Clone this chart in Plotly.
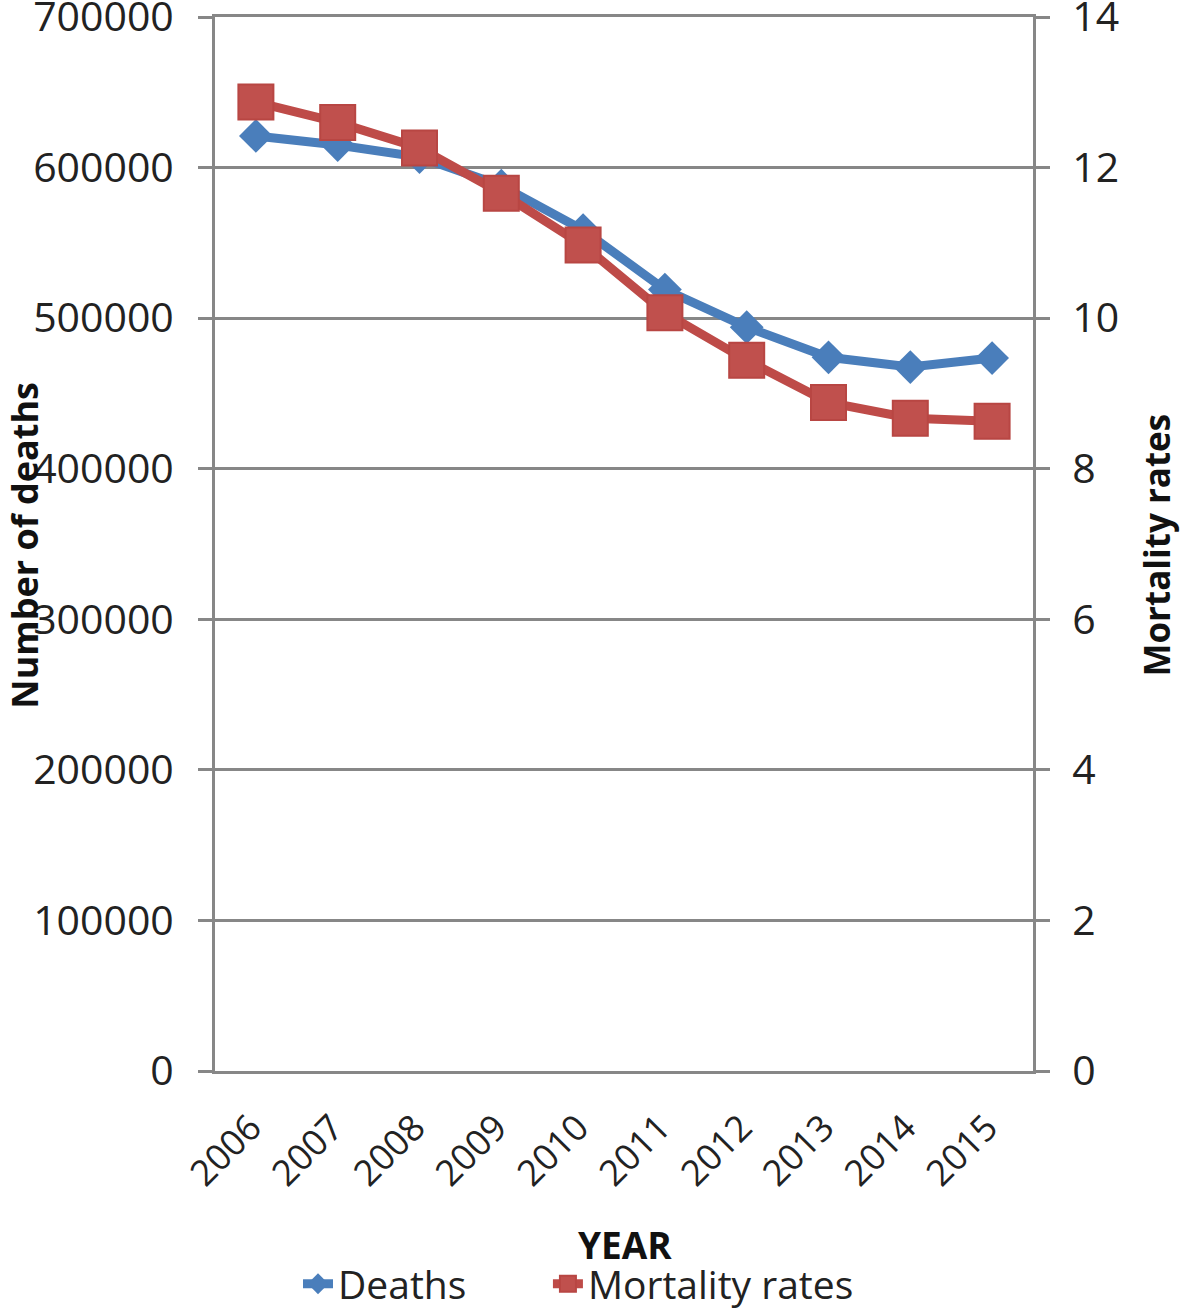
import plotly.graph_objects as go

years = ["2006", "2007", "2008", "2009", "2010", "2011", "2012", "2013", "2014", "2015"]
deaths = [621000, 615000, 607000, 588000, 558500, 519000, 494000, 474000, 467500, 473500]
mortality_rates = [12.87, 12.60, 12.26, 11.66, 10.97, 10.07, 9.44, 8.88, 8.67, 8.63]

left_ticks = [0, 100000, 200000, 300000, 400000, 500000, 600000, 700000]
right_ticks = [0, 2, 4, 6, 8, 10, 12, 14]

BLUE = "#4A7EBB"
RED = "#BE4B48"
GRID = "#878787"
FONT = "Open Sans"
TXT = "#222222"

fig = go.Figure()
fig.add_trace(go.Scatter(
    x=years, y=deaths, name="Deaths", mode="lines+markers", legend="legend",
    line=dict(color=BLUE, width=9),
    marker=dict(symbol="diamond", size=26, color=BLUE),
    yaxis="y",
))
fig.add_trace(go.Scatter(
    x=years, y=mortality_rates, name="Mortality rates", mode="lines+markers", legend="legend2",
    line=dict(color=RED, width=9),
    marker=dict(symbol="square", size=35, color="#C0504D", line=dict(color="#B84643", width=2)),
    yaxis="y2",
))

legend_style = dict(
    orientation="h", xanchor="left", y=-0.202, yanchor="middle",
    font=dict(family=FONT, size=39, color=TXT), bgcolor="rgba(0,0,0,0)",
)

fig.update_layout(
    width=1181, height=1310,
    margin=dict(l=215, r=148, t=17, b=239, autoexpand=False),
    paper_bgcolor="white", plot_bgcolor="white",
    font=dict(family=FONT, size=38, color=TXT),
    xaxis=dict(
        type="category", range=[-0.5, 9.5], autorange=False, automargin=False,
        tickangle=-45, showgrid=False,
        showline=True, linecolor=GRID, linewidth=3, mirror=True,
        ticks="", ticklabelstandoff=18, ticklabelshift=-5,
        tickfont=dict(family=FONT, size=36, color=TXT),
    ),
    yaxis=dict(
        range=[0, 700001], autorange=False, automargin=False,
        tickvals=left_ticks, ticktext=[str(v) for v in left_ticks],
        ticklabeloverflow="allow",
        showgrid=True, gridcolor=GRID, gridwidth=3,
        zeroline=True, zerolinecolor=GRID, zerolinewidth=3,
        showline=True, linecolor=GRID, linewidth=3,
        ticks="outside", ticklen=14, tickwidth=3, tickcolor=GRID,
        ticklabelstandoff=16,
        tickfont=dict(family=FONT, size=41, color=TXT),
    ),
    yaxis2=dict(
        range=[0, 14.00002], autorange=False, automargin=False,
        tickvals=right_ticks, overlaying="y", side="right",
        ticklabeloverflow="allow",
        showgrid=False, zeroline=False,
        showline=True, linecolor=GRID, linewidth=3,
        ticks="outside", ticklen=14, tickwidth=3, tickcolor=GRID,
        ticklabelstandoff=14,
        tickfont=dict(family=FONT, size=41, color=TXT),
    ),
    legend=dict(x=0.1015, **legend_style),
    legend2=dict(x=0.407, **legend_style),
    showlegend=True,
)

fig.add_annotation(text="<b>YEAR</b>", xref="paper", yref="paper", x=0.501, y=-0.165,
                   showarrow=False, font=dict(family=FONT, size=37, color="#111111"),
                   xanchor="center", yanchor="middle")
fig.add_annotation(text="<b>Number of deaths</b>", xref="paper", yref="paper", x=-0.234, y=0.499,
                   showarrow=False, textangle=-90, font=dict(family=FONT, size=36, color="#111111"),
                   xanchor="center", yanchor="middle")
fig.add_annotation(text="<b>Mortality rates</b>", xref="paper", yref="paper", x=1.151, y=0.499,
                   showarrow=False, textangle=-90, font=dict(family=FONT, size=35, color="#111111"),
                   xanchor="center", yanchor="middle")

fig.write_html("out.html", config={"displayModeBar": False},
               post_script="document.body.style.margin='0';")
